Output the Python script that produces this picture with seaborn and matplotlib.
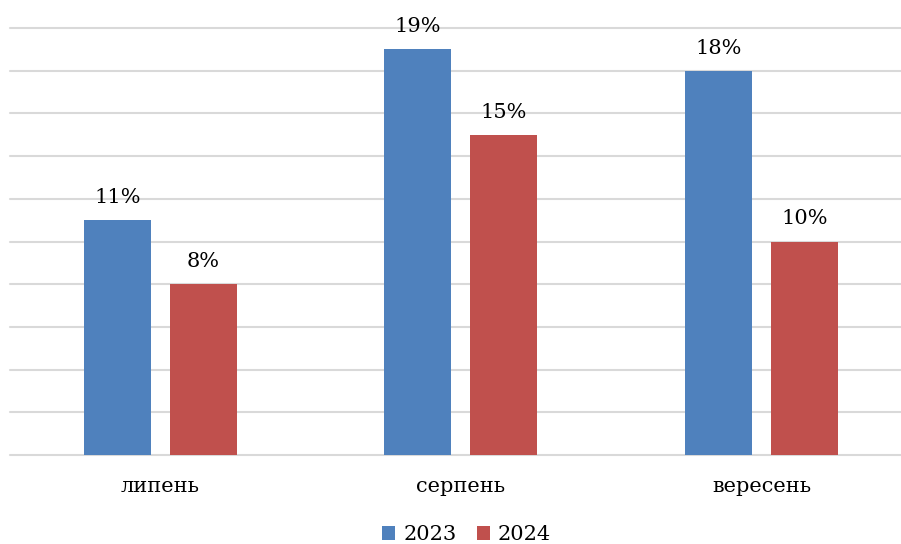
import pandas as pd
import numpy as np
import seaborn as sns
import matplotlib.pyplot as plt

months = ['липень', 'серпень', 'вересень']
years = ['2023', '2024']
vals_2023 = [11, 19, 18]
vals_2024 = [8, 15, 10]

df = pd.DataFrame({
    'month': months * 2,
    'year': [years[0]] * 3 + [years[1]] * 3,
    'value': vals_2023 + vals_2024,
})

sns.set_style('white')
plt.rcParams['font.family'] = ['DejaVu Serif']
plt.rcParams['text.color'] = 'black'

fig = plt.figure(figsize=(9.01, 5.44), dpi=100)
ax = fig.add_axes([10 / 901, 89 / 544, 891 / 901, 427 / 544])

sns.barplot(data=df, x='month', y='value', hue='year', order=months, hue_order=years,
            palette=['#4F81BD', '#C0504D'], width=0.572, gap=0.22, saturation=1,
            edgecolor='none', ax=ax)

ax.set_ylim(0, 20)
ax.set_xlim(-0.5, 2.464)
ax.set_yticks(np.arange(0, 21, 2))
ax.set_yticklabels([])
ax.yaxis.grid(True, color='#D9D9D9', linewidth=1.5)
for gl in ax.get_ygridlines():
    gl.set_clip_on(False)
ax.set_axisbelow(True)
ax.tick_params(axis='both', length=0)
ax.tick_params(axis='x', labelsize=15, pad=16, labelcolor='black')
for s in ax.spines.values():
    s.set_visible(False)
ax.set_xlabel('')
ax.set_ylabel('')

for c in ax.containers:
    ax.bar_label(c, fmt='%d%%', padding=9.5, fontsize=15, color='black')

handles, labels = ax.get_legend_handles_labels()
ax.legend_.remove()
fig.legend(handles, labels, loc='center', bbox_to_anchor=(0.518, 0.017), ncol=2,
           frameon=False, fontsize=15, handlelength=0.6, handleheight=0.6,
           handletextpad=0.4, columnspacing=1.0, labelcolor='black')

fig.savefig('out.png', dpi=100)
